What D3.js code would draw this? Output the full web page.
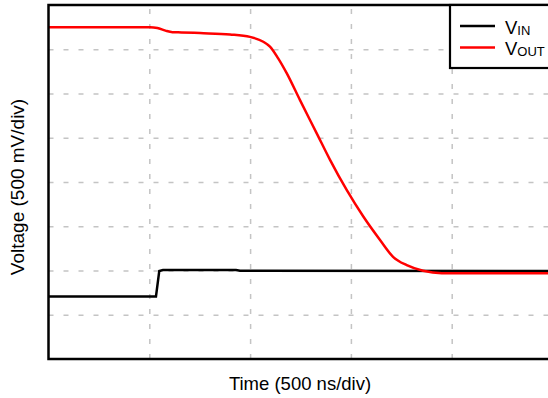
<!DOCTYPE html>
<html>
<head>
<meta charset="utf-8">
<script src="https://cdn.jsdelivr.net/npm/d3@7"></script>
<style>
  html, body { margin: 0; padding: 0; background: #fff; }
  svg { display: block; }
  text { font-family: "Liberation Sans", Arial, sans-serif; fill: #000; }
</style>
</head>
<body>
<svg id="chart" width="548" height="398"></svg>
<script>
// Data (divisions: x in time divs, y in voltage divs)
const xTicks = [0, 1, 2, 3, 4, 5];
const yTicks = [0, 1, 2, 3, 4, 5, 6, 7, 8];

const vinT = [0, 1.066, 1.099, 1.136, 1.86, 1.90, 5];
const vinV = [1.41, 1.41, 1.99, 2.01, 2.01, 1.995, 1.99];

const voutT = [0, 1.007, 1.08, 1.16, 1.23, 1.32, 1.503, 1.801, 1.999, 2.131, 2.197, 2.277, 2.363, 2.495, 2.661, 2.793, 2.958, 3.123, 3.289, 3.418, 3.554, 3.715, 3.901, 5];
const voutV = [7.50, 7.50, 7.48, 7.42, 7.385, 7.38, 7.365, 7.335, 7.28, 7.17, 7.06, 6.80, 6.46, 5.85, 5.10, 4.50, 3.82, 3.22, 2.69, 2.31, 2.12, 1.995, 1.94, 1.94];

const seriesNames = ["IN", "OUT"];
const seriesColors = ["#000000", "#ff0000"];

const svg = d3.select("#chart");
const x = d3.scaleLinear().domain([0, 5]).range([48.5, 552.5]);
const y = d3.scaleLinear().domain([0, 8]).range([359, 5]);

// grid via axes
const gx = svg.append("g").attr("transform", `translate(0,${y(0)})`)
  .call(d3.axisBottom(x).tickValues(xTicks.slice(1, 5)).tickSize(-(y(0) - y(8))).tickFormat(""));
gx.select(".domain").remove();
gx.selectAll(".tick line").attr("stroke", "#c4c4c4").attr("stroke-width", 1.5).attr("stroke-dasharray", "5,10");

const gy = svg.append("g").attr("transform", `translate(${x(0)},0)`)
  .call(d3.axisLeft(y).tickValues(yTicks.slice(1, 8)).tickSize(-(x(5) - x(0))).tickFormat(""));
gy.select(".domain").remove();
gy.selectAll(".tick line").attr("stroke", "#c4c4c4").attr("stroke-width", 1.5).attr("stroke-dasharray", "5,10");

// lines
const vin = vinT.map((t, i) => [t, vinV[i]]);
const vout = voutT.map((t, i) => [t, voutV[i]]);

svg.append("path").datum(vin)
  .attr("fill", "none").attr("stroke", seriesColors[0]).attr("stroke-width", 2.5)
  .attr("d", d3.line().x(d => x(d[0])).y(d => y(d[1])));

svg.append("path").datum(vout)
  .attr("fill", "none").attr("stroke", seriesColors[1]).attr("stroke-width", 2.5)
  .attr("d", d3.line().curve(d3.curveMonotoneX).x(d => x(d[0])).y(d => y(d[1])));

// frame
svg.append("rect")
  .attr("x", x(0)).attr("y", y(8))
  .attr("width", x(5) - x(0)).attr("height", y(0) - y(8))
  .attr("fill", "none").attr("stroke", "#000").attr("stroke-width", 2.5);

// legend
const lg = svg.append("g");
lg.append("rect").attr("x", 450).attr("y", 5).attr("width", 110).attr("height", 63)
  .attr("fill", "#fff").attr("stroke", "#000").attr("stroke-width", 2.2);
seriesNames.forEach((n, i) => {
  const yy = 26 + i * 21.5;
  lg.append("line").attr("x1", 460).attr("x2", 495).attr("y1", yy).attr("y2", yy)
    .attr("stroke", seriesColors[i]).attr("stroke-width", 2.5);
  const t = lg.append("text").attr("x", 505).attr("y", yy + 7.5).style("font-size", "18.5px");
  t.append("tspan").text("V");
  t.append("tspan").attr("dy", 1).style("font-size", "13px").text(n);
});

// axis titles
svg.append("text").attr("x", 300).attr("y", 389.5).attr("text-anchor", "middle")
  .style("font-size", "18.5px").text("Time (500 ns/div)");
svg.append("text").attr("transform", "translate(23.5,187) rotate(-90)").attr("text-anchor", "middle")
  .style("font-size", "19px").text("Voltage (500 mV/div)");
</script>
</body>
</html>
